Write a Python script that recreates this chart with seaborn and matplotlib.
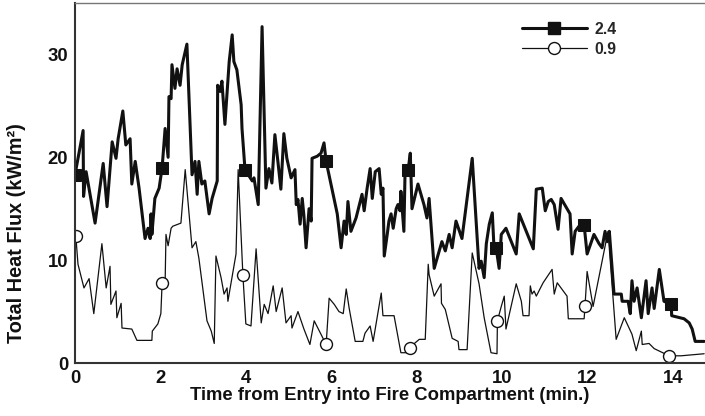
import numpy as np
import matplotlib
matplotlib.use("Agg")
import matplotlib.pyplot as plt
from matplotlib.lines import Line2D
import seaborn as sns

# ---- data ----
t_24 = [0.00,0.19,0.20,0.26,0.47,0.66,0.75,0.87,0.96,1.01,1.12,1.19,1.29,1.33,1.41,1.50,1.64,1.71,1.76,1.78,
        1.80,1.87,1.97,2.04,2.11,2.18,2.20,2.25,2.27,2.34,2.39,2.46,2.51,2.62,2.74,2.81,2.86,2.90,2.97,3.04,
        3.14,3.21,3.28,3.33,3.34,3.40,3.44,3.51,3.61,3.68,3.72,3.79,3.89,3.91,3.98,4.15,4.19,4.24,4.29,4.38,
        4.47,4.54,4.61,4.68,4.75,4.82,4.89,4.96,5.06,5.15,5.18,5.22,5.27,5.32,5.36,5.41,5.48,5.53,5.55,5.67,
        5.76,5.83,5.88,6.14,6.23,6.30,6.35,6.39,6.46,6.58,6.72,6.77,6.84,6.91,6.96,7.03,7.12,7.17,7.21,7.24,
        7.31,7.35,7.40,7.45,7.52,7.56,7.61,7.63,7.70,7.73,7.80,7.85,7.89,8.03,8.17,8.24,8.29,8.41,8.59,8.67,
        8.76,8.83,8.92,9.06,9.30,9.46,9.51,9.58,9.63,9.70,9.77,9.81,9.86,9.93,9.98,10.09,10.33,10.40,10.73,10.80,
        10.94,11.01,11.08,11.15,11.22,11.31,11.38,11.59,11.64,11.71,11.80,11.92,11.99,12.15,12.27,12.34,12.41,12.46,12.51,12.62,
        12.79,12.81,12.95,13.00,13.04,13.09,13.16,13.26,13.37,13.42,13.51,13.56,13.68,13.79,13.96,13.97,14.26,14.38,14.45,14.52,
        14.73]
flux_24 = [18.3,22.6,16.2,18.6,13.6,19.4,15.2,21.5,19.9,21.8,24.5,21.2,21.8,17.4,19.6,17.0,12.1,13.1,12.1,14.5,
           12.5,16.0,17.0,19.0,22.8,20.0,25.9,25.7,29.0,26.7,28.6,27.0,29.0,31.0,18.3,19.6,16.4,19.6,17.4,17.7,
           14.5,16.0,17.0,17.7,27.0,26.4,27.4,23.2,29.3,31.9,29.3,28.5,25.1,22.8,18.8,17.7,18.0,16.7,15.4,32.7,
           17.0,18.9,17.5,22.2,19.6,16.9,22.3,19.9,18.0,18.8,15.4,15.9,13.5,16.0,14.3,11.2,15.0,13.8,19.9,20.1,
           20.4,21.4,19.6,14.5,11.2,13.8,12.5,15.7,12.8,14.1,16.4,14.8,17.0,18.9,16.0,18.6,18.9,16.4,17.0,10.4,
           12.5,13.8,14.5,13.1,15.0,15.4,14.8,16.7,12.8,19.1,18.8,20.4,15.0,17.4,15.4,14.1,16.0,9.2,11.8,10.9,
           12.5,11.2,13.8,12.1,19.9,9.2,9.9,8.3,11.6,13.5,14.6,11.2,11.2,9.2,12.5,13.1,10.6,14.5,11.1,16.9,
           17.0,14.8,15.7,15.9,15.4,13.0,16.0,14.5,10.6,12.8,13.3,13.4,10.6,12.5,11.6,11.2,12.8,11.8,12.8,6.7,
           6.7,6.0,6.0,4.8,8.0,6.0,7.3,4.4,8.0,4.8,7.3,5.3,9.1,6.0,5.7,4.6,4.3,3.9,3.3,2.1,
           2.1]

t_09 = [0.02,0.07,0.21,0.33,0.44,0.63,0.73,0.82,0.84,0.96,0.98,1.08,1.10,1.33,1.45,1.80,1.81,1.94,2.01,2.04,
        2.11,2.13,2.18,2.25,2.29,2.48,2.58,2.74,2.83,2.90,3.09,3.19,3.26,3.30,3.42,3.49,3.56,3.58,3.77,3.82,
        3.93,4.00,4.12,4.24,4.36,4.43,4.52,4.64,4.71,4.85,4.94,5.06,5.08,5.22,5.36,5.50,5.60,5.88,5.95,6.07,
        6.18,6.28,6.35,6.42,6.56,6.74,6.79,6.91,6.98,7.17,7.21,7.47,7.63,7.78,7.85,7.89,8.06,8.20,8.27,8.29,
        8.41,8.57,8.58,8.67,8.83,8.97,8.99,9.18,9.30,9.46,9.58,9.74,9.88,9.89,9.98,10.05,10.09,10.33,10.45,10.49,
        10.63,10.66,10.70,10.75,10.80,10.96,11.17,11.22,11.29,11.52,11.55,11.92,11.94,11.99,12.13,12.48,12.67,12.86,13.04,13.14,
        13.26,13.28,13.44,13.56,13.91,14.19,14.73]
flux_09 = [12.3,9.6,7.3,8.2,4.8,11.6,7.3,9.4,5.7,7.0,4.4,5.8,3.4,3.3,2.2,2.2,3.1,3.8,4.8,7.8,
           7.8,12.5,11.4,13.1,13.3,13.6,18.8,11.2,11.8,10.2,4.1,3.1,1.9,10.4,8.3,6.7,7.3,6.0,10.6,18.8,
           8.6,3.8,3.6,11.1,3.9,5.7,4.8,7.5,5.0,7.3,3.9,4.6,3.4,5.0,3.3,1.8,4.1,1.8,6.3,5.7,
           5.0,4.8,7.2,5.3,2.1,2.1,2.9,3.6,2.1,6.8,4.6,4.6,1.0,1.0,1.5,1.7,2.3,2.3,9.6,8.6,
           6.5,7.7,5.8,5.2,2.4,2.1,1.3,1.3,10.7,7.7,4.4,1.0,0.9,4.1,5.5,6.5,3.3,7.7,6.0,4.6,
           4.6,7.5,6.7,7.0,6.5,7.8,9.1,6.7,7.8,6.5,4.3,4.3,5.5,8.9,5.5,12.8,2.3,4.4,2.8,1.2,
           3.1,1.8,1.9,1.4,0.7,0.7,0.9]

marks_24 = [0.00, 2.04, 3.98, 5.88, 7.80, 9.86, 11.92, 13.96]
marks_09 = [0.02, 2.04, 3.93, 5.88, 7.85, 9.89, 11.94, 13.91]

series_labels = ["2.4", "0.9"]
x_ticks = [0, 2, 4, 6, 8, 10, 12, 14]
y_ticks = [0, 10, 20, 30]
x_label = "Time from Entry into Fire Compartment (min.)"
y_label = "Total Heat Flux (kW/m²)"

# ---- plotting ----
sns.set_style("white")
plt.rcParams["font.family"] = ["Liberation Sans", "DejaVu Sans"]
plt.rcParams["font.weight"] = "bold"

fig = plt.figure(figsize=(7.05, 4.16), dpi=100)
ax = fig.add_axes([75 / 705, 1 - 363 / 416, 630 / 705, 360 / 416])

t24 = np.asarray(t_24); t09 = np.asarray(t_09)
idx24 = [int(np.argmin(np.abs(t24 - m))) for m in marks_24]
idx09 = [int(np.argmin(np.abs(t09 - m))) for m in marks_09]

sns.lineplot(x=t_09, y=flux_09, ax=ax, sort=False, estimator=None, color="#111111",
             linewidth=0.9, marker="o", markevery=idx09, markersize=8.6,
             markerfacecolor="white", markeredgecolor="#111111", markeredgewidth=1.0,
             legend=False)
sns.lineplot(x=t_24, y=flux_24, ax=ax, sort=False, estimator=None, color="#111111",
             linewidth=2.2, marker="s", markevery=idx24, markersize=9,
             markerfacecolor="#111111", markeredgecolor="#111111", legend=False)

ax.set_xlim(0, 14.75)
ax.set_ylim(0, 35)
ax.set_xticks(x_ticks)
ax.set_yticks(y_ticks)
ax.tick_params(axis="both", length=0, labelsize=13.3, colors="#111111")
ax.tick_params(axis="x", pad=5)
ax.tick_params(axis="y", pad=5)
for lab in ax.get_xticklabels() + ax.get_yticklabels():
    lab.set_fontweight("bold")

ax.set_xlabel(x_label, fontsize=13.3, fontweight="bold", color="#111111", labelpad=0)
ax.set_ylabel(y_label, fontsize=14.3, fontweight="bold", color="#111111")
ax.yaxis.set_label_coords(-0.078, 0.36)

for side in ["left", "bottom"]:
    ax.spines[side].set_color("#333333")
    ax.spines[side].set_linewidth(1.5)
ax.spines["top"].set_color("#777777")
ax.spines["top"].set_linewidth(1.0)
ax.spines["right"].set_visible(False)

handles = [
    Line2D([], [], color="#111111", linewidth=2.2, marker="s", markersize=9,
           markerfacecolor="#111111"),
    Line2D([], [], color="#111111", linewidth=0.9, marker="o", markersize=8.6,
           markerfacecolor="white", markeredgecolor="#111111", markeredgewidth=1.0),
]
leg = ax.legend(handles, series_labels, loc="upper left",
                bbox_to_anchor=(522 / 705, 1 - 22 / 416), bbox_transform=fig.transFigure,
                frameon=False, handlelength=4.1, handletextpad=0.45, labelspacing=0.3,
                borderpad=0, borderaxespad=0, prop={"size": 11.4, "weight": "bold"})

fig.savefig("out.png", dpi=100)
